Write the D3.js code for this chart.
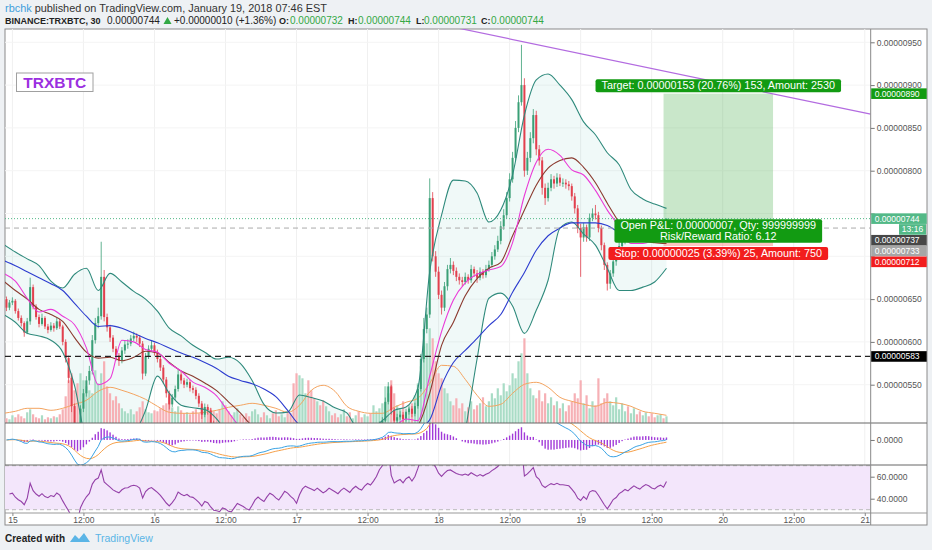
<!DOCTYPE html>
<html>
<head>
<meta charset="utf-8">
<script src="https://cdn.jsdelivr.net/npm/d3@7"></script>
<style>
body { margin: 0; background: #eef1f4; }
svg { display: block; font-family: "Liberation Sans", Arial, sans-serif; }
</style>
</head>
<body>
<svg id="chart" width="932" height="550"></svg>
<script>
// TRXBTC 30m bars, prices in satoshi (1e-8 BTC). First bar = Jan 14 23:00
const firstOpen = 650;
const closes = [
  640,646,648,636,628,622,611,624,664,641, 629,621,628,618,614,619,616,624,618,600,
  581,558,525,498,490,522,540,555,566,602, 622,630,676,629,617,605,592,584,578,590,
  597,598,604,607,605,598,563,583,592,596, 588,580,570,556,540,527,535,545,562,555,
  550,553,546,544,537,528,515,524,520,505, 492,490,486,492,488,480,478,484,490,486,
  482,476,472,478,485,489,484,480,486,491, 488,483,479,484,490,487,482,478,470,480,
  488,492,490,488,486,489,486,483,485,488, 486,484,482,485,487,485,483,486,488,486,
  485,488,490,489,492,496,503,508,530,548, 520,508,512,515,510,518,522,516,525,545,
  580,615,632,768,700,682,655,640,665,685, 690,683,676,672,670,676,672,685,680,675,
  682,678,685,690,700,708,718,735,748,768, 790,815,850,880,900,800,815,838,865,825,
  812,780,768,780,790,785,792,786,786,784, 782,770,756,733,722,734,722,745,750,748,
  733,713,690,668,680,694,700,712,718,725, 720,728,735,730,726,733,738,735,730,728,
  733,736,732,744
];
const highs = [
  653,649,652,650,639,631,624,628,675,667, 644,632,633,630,621,623,622,628,627,620,
  603,584,561,528,503,526,545,560,572,608, 628,640,717,684,633,620,608,595,587,594,
  601,603,608,612,610,608,601,587,596,602, 599,591,583,573,559,543,539,549,567,565,
  558,557,556,549,547,540,531,528,527,523, 508,495,493,496,494,490,483,487,494,492,
  488,484,478,481,489,493,491,486,489,495, 493,490,485,487,494,492,489,484,480,484,
  492,497,495,492,490,492,491,488,488,491, 490,488,486,488,490,489,487,489,491,490,
  489,491,494,493,496,500,507,512,535,553, 550,523,516,519,518,522,526,525,529,550,
  586,628,640,791,775,706,688,660,670,690, 698,694,687,680,676,681,679,690,688,684,
  687,685,690,695,705,713,724,741,755,775, 797,822,858,888,947,908,822,845,872,870,
  830,816,785,786,796,794,797,796,791,790, 788,785,774,760,738,739,737,750,756,760,
  752,736,716,693,684,699,706,717,723,730, 728,732,739,738,733,736,742,741,737,733,
  736,740,738,744
];
const lows = [
  636,637,643,633,625,618,606,609,620,638, 626,617,619,615,610,612,612,614,615,596,
  576,552,518,490,470,486,518,536,550,562, 598,616,626,624,612,600,588,578,572,575,
  586,592,595,601,600,594,556,560,580,589, 584,576,566,551,535,521,524,532,542,551,
  546,547,542,540,533,524,510,512,515,500, 487,486,482,484,485,476,474,476,482,483,
  479,472,468,470,476,483,481,477,478,484, 485,480,476,477,482,484,479,474,462,468,
  478,486,487,485,483,484,483,480,481,483, 484,481,479,480,483,482,480,481,484,483,
  482,483,486,486,487,490,494,500,506,527, 515,503,505,509,506,507,515,512,513,522,
  542,576,610,628,694,676,650,632,636,660, 680,678,671,667,665,667,668,669,676,669,
  672,674,675,682,687,696,705,714,731,744, 764,786,811,845,876,793,795,810,832,818,
  806,772,760,764,776,779,781,782,781,779, 777,765,750,727,676,717,717,718,741,743,
  728,707,684,660,662,676,689,696,708,714, 716,717,724,726,722,723,730,731,727,724,
  725,731,729,731
];
const volumes = [
  5,4,8,6,9,7,5,11,14,9,6,5,8,4,6,5,7,6,9,
  14,27,43,50,33,40,50,43,37,33,30,53,40,50,62,37,30,23,27,20,
  15,12,10,14,9,12,16,22,14,11,10,13,12,15,18,20,27,16,12,17,13,10,11,9,12,14,10,16,13,11,15,12,
  10,14,22,18,12,8,11,15,9,6,10,7,12,14,9,6,11,8,5,10,13,7,9,6,12,10,
  40,50,48,45,30,43,33,25,22,
  18,23,17,12,8,10,6,9,14,7,11,5,8,12,6,9,7,10,18,12,15,
  20,37,30,43,30,18,14,22,12,16,20,28,40,57,
  77,80,95,85,62,50,45,35,30,22,18,25,15,20,12,16,22,14,18,20,26,17,
  22,30,25,35,28,40,32,38,50,45,62,70,
  85,50,35,28,25,33,22,30,20,26,18,22,15,20,12,18,22,30,
  25,43,20,28,15,22,18,45,20,25,30,22,18,26,14,20,12,17,10,15,9,12,8,11,7,10,6,8,9,5,7
];

// indicator lines every 2 hours, first sample Jan 14 22:30
const bbUpper = [714,705,697,689,671,663,679,686,660,680, 670,659,650,636,616,607,596,588,580,582,
  575,555,527,517,518,538,535,531,523,517, 498,498,508,520,524,546,682,748,789,788,
  774,740,754,795,865,906,913,900,883,857, 842,821,807,778,767,761,756];
const bbLower = [632,623,610,607,602,588,549,485,470,465, 470,490,520,560,540,526,523,521,510,490,
  470,465,460,455,455,455,455,455,460,465, 470,470,470,470,470,470,420,400,420,495,
  580,651,657,642,610,637,672,733,740,726, 713,686,660,660,664,670,686];
const maSlow = [695,689,682,675,668,660,645,630,618,619, 616,610,604,599,593,587,582,576,569,560,
  555,551,545,536,520,503,498,494,491,489, 487,486,486,488,492,498,509,549,576,590,
  604,619,632,658,681,707,724,733,739,739, 739,736,728,724,721,720,721];
const maFast = [680,671,651,635,638,630,620,593,550,557, 602,600,591,588,575,566,553,547,537,518,
  500,490,486,484,482,486,488,487,486,485, 486,487,488,500,510,508,560,612,649,669,
  679,684,688,716,771,810,825,818,801,795, 777,754,735,715,715,720,728];
const maMid = [671,660,650,638,632,624,605,588,581,582, 578,582,589,587,576,566,560,552,543,530,
  517,502,495,490,487,486,486,487,487,487, 487,487,488,492,497,503,540,596,623,654,
  674,686,693,724,754,783,803,812,815,804, 786,762,740,725,718,716,715];
const volMa = [10,12,15,15,13,15,19,23,32,36, 33,29,24,17,11,10,10,11,13,16,
  18,20,18,15,11,18,33,38,32,17, 12,10,10,16,21,25,40,58,57,44,
  28,17,19,30,39,41,36,26,22,19, 17,21,20,17,12,10,8];

const priceTicks = [550, 600, 650, 700, 750, 800, 850, 900, 950];
const timeTickLabels = ["15","12:00","16","12:00","17","12:00","18","12:00","19","12:00","20","12:00","21"];
const rsiTicks = [60, 40];

// drawings
const supportLevel = 583;
const lastPrice = 744;
const refLevel = 733;
const entryPrice = 737, targetPrice = 890, stopPrice = 712;
const positionBars = [220, 257];
const trendPoints = [{bar: 150, price: 967}, {bar: 290, price: 866}];
const tagPrices = [744, 737, 733, 712];
const tagColors = ["#53b987", "#474747", "#a6a6a6", "#f21d1d"];

const HALF_HOUR = 30 * 60 * 1000;
const jan15 = Date.UTC(2018, 0, 15);
const firstBarTime = Date.UTC(2018, 0, 14, 23, 0);
const sampleStart = Date.UTC(2018, 0, 14, 22, 30);
const UP = "#3a9f76", DOWN = "#e2404e";

const svg = d3.select("#chart");
const L = 5, R = 870.7, T = 29, B = 525;
const mainBottom = 423, macdBottom = 465, rsiBottom = 513;

const x = d3.scaleUtc()
  .domain([Date.UTC(2018, 0, 14, 22, 45), Date.UTC(2018, 0, 21, 1, 0)])
  .range([L, R]);
const y = d3.scaleLinear().domain([550, 950]).range([384.7, 42.3]);
const yVol = d3.scaleLinear().domain([0, 100]).range([423.3, 323.3]);
const yMacd = d3.scaleLinear().domain([-31, 21]).range([465, 423]);
const yRsi = d3.scaleLinear().domain([60, 40]).range([476.7, 498.7]);

const barTime = i => new Date(jan15 + i * HALF_HOUR);
const bars = closes.map((c, j) => ({
  t: new Date(firstBarTime + j * HALF_HOUR),
  o: j ? closes[j - 1] : firstOpen,
  h: highs[j], l: lows[j], c: c, v: volumes[j]
}));
const samples = bbUpper.map((d, k) => new Date(sampleStart + k * 4 * HALF_HOUR));

function ema(src, n) {
  const a = 2 / (n + 1);
  let v = src[0];
  return src.map((s, j) => (v = j ? v + a * (s - v) : s));
}
// Wilder RSI, averages seeded from the first n changes
function rsi(src, n) {
  const ch = src.slice(1).map((s, j) => s - src[j]);
  let g = d3.mean(ch.slice(0, n), d => Math.max(d, 0));
  let l = d3.mean(ch.slice(0, n), d => Math.max(-d, 0));
  return src.map((s, j) => {
    if (!j) return null;
    const d = ch[j - 1];
    g = (g * (n - 1) + Math.max(d, 0)) / n;
    l = (l * (n - 1) + Math.max(-d, 0)) / n;
    return l === 0 ? 100 : 100 - 100 / (1 + g / l);
  });
}
const ema12 = ema(closes, 12), ema26 = ema(closes, 26);
const macd = closes.map((c, j) => ema12[j] - ema26[j]);
const signal = ema(macd, 9);
const rsiVals = rsi(closes, 14);

// background + panes
svg.append("rect").attr("width", 932).attr("height", 550).attr("fill", "#eef1f4");
svg.append("rect").attr("x", L).attr("y", T).attr("width", 927 - L).attr("height", B - T)
  .attr("fill", "#fff").attr("stroke", "#8a8a8a");

const defs = svg.append("defs");
[["clipMain", T, mainBottom], ["clipMacd", mainBottom, macdBottom], ["clipRsi", macdBottom, rsiBottom]]
  .forEach(([id, y0, y1]) => {
    defs.append("clipPath").attr("id", id).append("rect")
      .attr("x", L).attr("y", y0).attr("width", R - L).attr("height", y1 - y0);
  });

// grid
const tickTimes = timeTickLabels.map((s, k) => barTime(k * 24));
svg.append("g").selectAll("line").data(tickTimes).join("line")
  .attr("x1", d => x(d)).attr("x2", d => x(d)).attr("y1", T).attr("y2", rsiBottom)
  .attr("stroke", "#f0f0f0");
svg.append("g").selectAll("line").data(priceTicks).join("line")
  .attr("x1", L).attr("x2", R).attr("y1", d => y(d)).attr("y2", d => y(d))
  .attr("stroke", "#f4f4f4");

const main = svg.append("g").attr("clip-path", "url(#clipMain)");

// bollinger fill
main.append("path")
  .attr("d", d3.area().x((d, k) => x(samples[k])).y0((d, k) => y(bbLower[k])).y1(d => y(d))
    .curve(d3.curveMonotoneX)(bbUpper))
  .attr("fill", "rgba(38,166,154,0.07)");

// volume
main.append("g").selectAll("rect").data(bars).join("rect")
  .attr("x", d => x(d.t) - 1.1).attr("width", 2.2)
  .attr("y", d => yVol(d.v)).attr("height", d => yVol(0) - yVol(d.v))
  .attr("fill", d => d.c >= d.o ? "#a9dcc6" : "#f6b0b5");
main.append("path")
  .attr("d", d3.line().x((d, k) => x(samples[k])).y(d => yVol(d)).curve(d3.curveMonotoneX)(volMa))
  .attr("fill", "none").attr("stroke", "#f4a460").attr("stroke-width", 1);

// long position zones
const px0 = x(barTime(positionBars[0])), px1 = x(barTime(positionBars[1]));
main.append("rect").attr("x", px0).attr("width", px1 - px0)
  .attr("y", y(targetPrice)).attr("height", y(entryPrice) - y(targetPrice))
  .attr("fill", "rgba(76,175,80,0.3)");
main.append("rect").attr("x", px0).attr("width", px1 - px0)
  .attr("y", y(entryPrice)).attr("height", y(stopPrice) - y(entryPrice))
  .attr("fill", "rgba(244,67,54,0.3)");

// candles
const candle = main.append("g").selectAll("g").data(bars).join("g")
  .attr("stroke", d => d.c >= d.o ? UP : DOWN).attr("fill", d => d.c >= d.o ? UP : DOWN);
candle.append("line")
  .attr("x1", d => x(d.t)).attr("x2", d => x(d.t))
  .attr("y1", d => y(d.h)).attr("y2", d => y(d.l)).attr("stroke-width", 0.8);
candle.append("rect")
  .attr("x", d => x(d.t) - 1).attr("width", 2).attr("stroke", "none")
  .attr("y", d => y(Math.max(d.o, d.c)))
  .attr("height", d => Math.max(1, Math.abs(y(d.o) - y(d.c))));

// moving averages + bands
const sampleLine = d3.line().x((d, k) => x(samples[k])).y(d => y(d)).curve(d3.curveMonotoneX);
[[bbUpper, "#2f8a7c"], [bbLower, "#2f8a7c"], [maSlow, "#2c3ccf"], [maMid, "#8b3a2f"], [maFast, "#ea3bd8"]]
  .forEach(([arr, col]) => {
    main.append("path").attr("d", sampleLine(arr)).attr("fill", "none")
      .attr("stroke", col).attr("stroke-width", 1.1);
  });

// horizontal levels
main.append("line").attr("x1", L).attr("x2", R).attr("y1", y(lastPrice)).attr("y2", y(lastPrice))
  .attr("stroke", "#53b987").attr("stroke-dasharray", "1,2");
main.append("line").attr("x1", L).attr("x2", R).attr("y1", y(refLevel)).attr("y2", y(refLevel))
  .attr("stroke", "#aaa").attr("stroke-dasharray", "5,4");
main.append("line").attr("x1", L).attr("x2", R).attr("y1", y(supportLevel)).attr("y2", y(supportLevel))
  .attr("stroke", "#222").attr("stroke-dasharray", "6,4").attr("stroke-width", 1.2);

// trend line, extended to the right edge
const tA = trendPoints[0], tB = trendPoints[1];
main.append("line")
  .attr("x1", x(barTime(tA.bar))).attr("y1", y(tA.price))
  .attr("x2", x(barTime(tB.bar))).attr("y2", y(tB.price))
  .attr("stroke", "#b36be0").attr("stroke-width", 1.2);

// MACD pane
const macdG = svg.append("g").attr("clip-path", "url(#clipMacd)");
macdG.append("g").selectAll("rect").data(bars).join("rect")
  .attr("x", d => x(d.t) - 0.7).attr("width", 1.4)
  .attr("y", (d, j) => Math.min(yMacd(0), yMacd(macd[j] - signal[j])))
  .attr("height", (d, j) => Math.abs(yMacd(macd[j] - signal[j]) - yMacd(0)))
  .attr("fill", "#a23bd8");
const barLine = arr => d3.line().x((d, j) => x(bars[j].t)).y(d => yMacd(d))(arr);
macdG.append("path").attr("d", barLine(signal)).attr("fill", "none").attr("stroke", "#f5a04a").attr("stroke-width", 1);
macdG.append("path").attr("d", barLine(macd)).attr("fill", "none").attr("stroke", "#3aa3e3").attr("stroke-width", 1);

// RSI pane
const rsiG = svg.append("g").attr("clip-path", "url(#clipRsi)");
rsiG.append("rect").attr("x", L).attr("width", R - L).attr("y", yRsi(70)).attr("height", yRsi(30) - yRsi(70))
  .attr("fill", "#f3e6fb");
[70, 30].forEach(v => rsiG.append("line").attr("x1", L).attr("x2", R).attr("y1", yRsi(v)).attr("y2", yRsi(v))
  .attr("stroke", "#bbb").attr("stroke-dasharray", "4,3"));
rsiG.append("path")
  .attr("d", d3.line().defined(d => d !== null).x((d, j) => x(bars[j].t)).y(d => yRsi(d))(rsiVals))
  .attr("fill", "none").attr("stroke", "#9440a8").attr("stroke-width", 1.1);

// pane separators and axis border
[mainBottom, macdBottom].forEach(v => svg.append("line").attr("x1", L).attr("x2", 927)
  .attr("y1", v).attr("y2", v).attr("stroke", "#666"));
svg.append("line").attr("x1", L).attr("x2", 927).attr("y1", rsiBottom).attr("y2", rsiBottom).attr("stroke", "#999");
svg.append("line").attr("x1", R).attr("x2", R).attr("y1", T).attr("y2", B).attr("stroke", "#888");

// price tag positions (stacked so they don't overlap), countdown sits under the last price
const TAG_H = 10.8;
const tagY = [];
let prevY = -Infinity;
tagPrices.forEach((v, k) => {
  const yy = Math.max(y(v), prevY + TAG_H);
  tagY.push(yy);
  prevY = k === 0 ? yy + TAG_H : yy;
});
const countdownY = tagY[0] + TAG_H;
const coveredY = tagY.concat([countdownY]);

// right axes
const fmtPrice = v => d3.format(".8f")(v / 1e8);
const axisStyle = g => {
  g.select(".domain").remove();
  g.selectAll("line").attr("stroke", "#777");
  g.selectAll("text").attr("fill", "#555").attr("font-size", 8.5);
};
svg.append("g").attr("transform", `translate(${R},0)`)
  .call(d3.axisRight(y).tickValues(priceTicks).tickSize(4).tickPadding(2)
    .tickFormat(v => coveredY.some(c => Math.abs(c - y(v)) < 5.5) ? "" : fmtPrice(v)))
  .call(axisStyle);
svg.append("g").attr("transform", `translate(${R},0)`)
  .call(d3.axisRight(yMacd).tickValues([0]).tickSize(4).tickPadding(2).tickFormat(d3.format(".4f")))
  .call(axisStyle);
svg.append("g").attr("transform", `translate(${R},0)`)
  .call(d3.axisRight(yRsi).tickValues(rsiTicks).tickSize(4).tickPadding(2).tickFormat(d3.format(".4f")))
  .call(axisStyle);

// time axis
svg.append("g").attr("transform", `translate(0,${rsiBottom})`)
  .call(d3.axisBottom(x).tickValues(tickTimes).tickSize(3).tickPadding(1)
    .tickFormat((d, k) => timeTickLabels[k]))
  .call(g => {
    g.select(".domain").remove();
    g.selectAll("line").attr("stroke", "#888");
    g.selectAll("text").attr("fill", "#555").attr("font-size", 8.5);
  });

function tag(yy, col, txt) {
  svg.append("rect").attr("x", R + 0.5).attr("y", yy - 5.3).attr("width", 55.5).attr("height", 10.6).attr("fill", col);
  svg.append("text").attr("x", R + 4).attr("y", yy + 3).attr("fill", "#fff").attr("font-size", 8.5).text(txt);
}
tag(y(targetPrice), "#129b12", fmtPrice(targetPrice));
tag(y(supportLevel), "#000", fmtPrice(supportLevel));
tagPrices.forEach((v, k) => tag(tagY[k], tagColors[k], fmtPrice(v)));
svg.append("rect").attr("x", 899).attr("y", countdownY - 5.3).attr("width", 27).attr("height", 10.6).attr("fill", "#53b987");
svg.append("text").attr("x", 912.5).attr("y", countdownY + 3).attr("text-anchor", "middle").attr("fill", "#fff")
  .attr("font-size", 8.5).text("13:16");

// position labels
const midX = (px0 + px1) / 2;
function boxLabel(lines, topY, col) {
  const g = svg.append("g");
  const texts = lines.map((s, k) => g.append("text").attr("x", midX).attr("y", topY + 10 + k * 10.5)
    .attr("text-anchor", "middle").attr("fill", "#fff").attr("font-size", 10.8).text(s));
  const w = d3.max(texts, t => t.node().getComputedTextLength()) + 12;
  g.insert("rect", "text").attr("x", midX - w / 2).attr("y", topY).attr("width", w)
    .attr("height", 2.5 + lines.length * 10.5).attr("rx", 2).attr("fill", col);
}
boxLabel(["Target: 0.00000153 (20.76%) 153, Amount: 2530"], y(targetPrice) - 14.5, "#129b12");
boxLabel(["Open P&L: 0.00000007, Qty: 999999999", "Risk/Reward Ratio: 6.12"], y(entryPrice) - 5.5, "#129b12");
boxLabel(["Stop: 0.00000025 (3.39%) 25, Amount: 750"], y(stopPrice) + 1, "#f21d1d");

// symbol box
svg.append("rect").attr("x", 16.5).attr("y", 73).attr("width", 76.5).attr("height", 18.5)
  .attr("fill", "#fff").attr("stroke", "#a0a0a0");
svg.append("text").attr("x", 54.7).attr("y", 88).attr("text-anchor", "middle")
  .attr("font-size", 15.5).attr("font-weight", "bold").attr("fill", "#9b2fe0").text("TRXBTC");

// header
const h1 = svg.append("text").attr("x", 5).attr("y", 12).attr("font-size", 10.9).attr("fill", "#333");
h1.append("tspan").attr("fill", "#3f9fdc").text("rbchk");
h1.append("tspan").text(" published on TradingView.com, January 19, 2018 07:46 EST");
const GREEN = "#33a845";
const h2 = [
  [5, "BINANCE:TRXBTC, 30", "#222", "bold", 9],
  [107, "0.00000744", "#222", "normal", 10],
  [174, "+0.00000010 (+1.36%)", "#222", "normal", 10],
  [279, "O:", "#222", "bold", 9], [290, "0.00000732", GREEN, "normal", 10],
  [348, "H:", "#222", "bold", 9], [358, "0.00000744", GREEN, "normal", 10],
  [416, "L:", "#222", "bold", 9], [424, "0.00000731", GREEN, "normal", 10],
  [481, "C:", "#222", "bold", 9], [491, "0.00000744", GREEN, "normal", 10]
];
h2.forEach(([xx, s, col, wt, fs]) => svg.append("text").attr("x", xx).attr("y", 24).attr("font-size", fs)
  .attr("fill", col).attr("font-weight", wt).text(s));
svg.append("path").attr("d", "M163.5,24 L167.5,17 L171.5,24 Z").attr("fill", GREEN);

// footer
svg.append("text").attr("x", 5).attr("y", 542).attr("font-size", 10).attr("font-weight", "bold")
  .attr("fill", "#222").text("Created with");
svg.append("path").attr("d", "M70,542 L75,535 L79,539 L84,533 L90,542 Z").attr("fill", "#5ab5e6");
svg.append("text").attr("x", 95).attr("y", 542).attr("font-size", 10.5).attr("fill", "#5ab5e6").text("TradingView");
</script>
</body>
</html>
